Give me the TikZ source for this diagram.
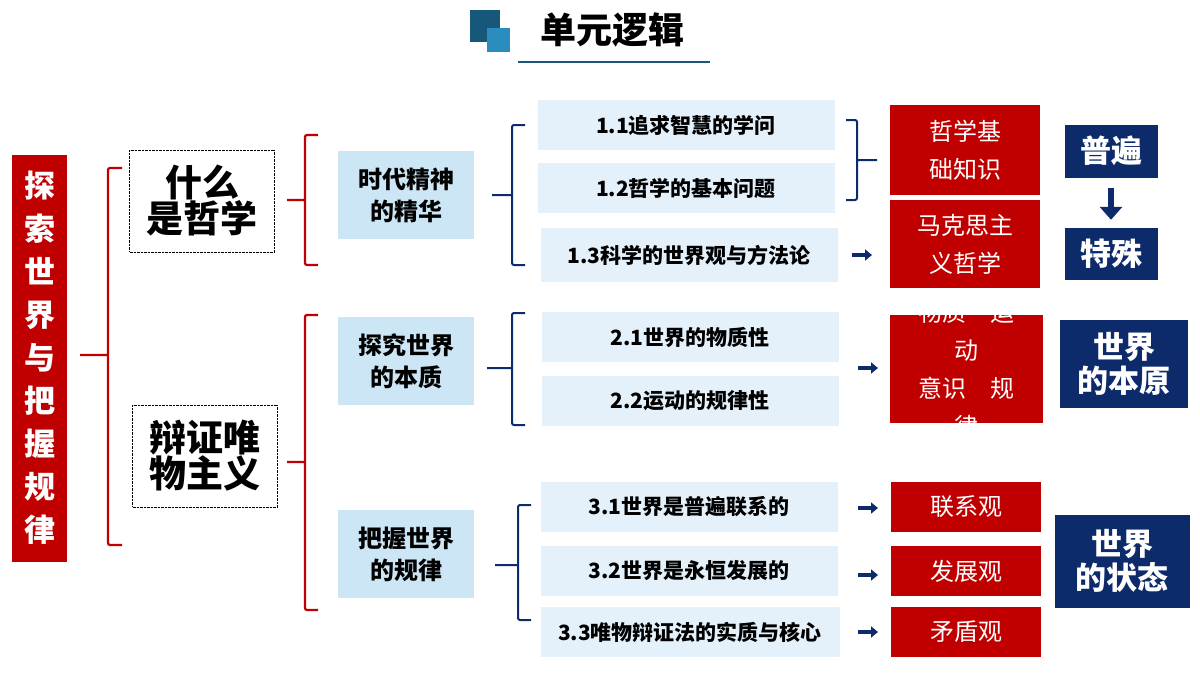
\documentclass[tikz,border=0pt]{standalone}
\usepackage{fontspec}
\setmainfont{Noto Sans CJK SC}
\newcommand\cjkb{\bfseries}
\usetikzlibrary{arrows.meta}
\definecolor{redbox}{HTML}{C00000}
\definecolor{navy}{HTML}{0D2A6B}
\definecolor{lblue}{HTML}{CCE6F5}
\definecolor{pblue}{HTML}{E4F1FA}
\definecolor{tdark}{HTML}{17587A}
\definecolor{tlight}{HTML}{2A8DBE}
\tikzset{
  item/.style={fill=pblue, minimum width=297pt, minimum height=50pt, font=\cjkb\fontsize{21}{22}\selectfont},
  topic/.style={fill=lblue, minimum width=136pt, minimum height=88pt, align=center, font=\cjkb\fontsize{24}{32}\selectfont},
  rbox/.style={fill=redbox, text=white, minimum width=150pt, minimum height=50pt, align=center, font=\fontsize{24}{38}\selectfont},
  nbox/.style={fill=navy, text=white, align=center, font=\cjkb\fontsize{31}{34}\selectfont},
  main/.style={draw, densely dotted, minimum width=145pt, minimum height=102pt, align=center, font=\cjkb\fontsize{37}{36}\selectfont},
  rbr/.style={redbox, line width=2.2pt, rounded corners=2pt},
  bbr/.style={navy, line width=2pt, rounded corners=2pt},
  arr/.style={navy, line width=3.5pt, -{Triangle[length=7pt,width=11pt]}}
}
\begin{document}
\begin{tikzpicture}[x=1pt, y=-1pt]
\useasboundingbox (0,0) rectangle (1200,675);
% title
\fill[tdark] (470,10) rectangle (500,42);
\fill[tlight] (487,28) rectangle (510,52);
\node[font=\cjkb\fontsize{36}{36}\selectfont] (title) at (612,30) {单元逻辑};
\draw[tdark, line width=1.2pt] (518,62) -- (710,62);
% left column
\node[fill=redbox, text=white, minimum width=55pt, minimum height=407pt, align=center,
  font=\cjkb\fontsize{31}{43}\selectfont] (root) at (39.5,358) {探\\索\\世\\界\\与\\把\\握\\规\\律};
\draw[rbr] (122,168) -- (108,168) -- (108,545) -- (122,545) (80,355) -- (108,355);
\node[main] (what) at (202,201) {什么\\是哲学};
\node[main] (dial) at (205,456) {辩证唯\\物主义};
\draw[rbr] (318,135) -- (305,135) -- (305,265) -- (318,265) (287,200) -- (305,200);
\draw[rbr] (318,315) -- (305,315) -- (305,610) -- (318,610) (287,462) -- (305,462);
% topics
\node[topic] (t1) at (406,195) {时代精神\\的精华};
\node[topic] (t2) at (406,361) {探究世界\\的本质};
\node[topic] (t3) at (406,554) {把握世界\\的规律};
\draw[bbr] (525,125) -- (512,125) -- (512,265) -- (525,265) (492,195) -- (512,195);
\draw[bbr] (525,313) -- (512,313) -- (512,425) -- (525,425) (487,368) -- (512,368);
\draw[bbr] (531,505) -- (518,505) -- (518,620) -- (531,620) (495,565) -- (518,565);
% items
\node[item] (i11) at (686,125) {1.1追求智慧的学问};
\node[item] (i12) at (686,188) {1.2哲学的基本问题};
\node[item, minimum height=54pt] (i13) at (689,255) {1.3科学的世界观与方法论};
\node[item] (i21) at (690,337) {2.1世界的物质性};
\node[item] (i22) at (690,401) {2.2运动的规律性};
\node[item] (i31) at (689,507) {3.1世界是普遍联系的};
\node[item] (i32) at (689,571) {3.2世界是永恒发展的};
\node[item, minimum width=299pt] (i33) at (690,632) {3.3唯物辩证法的实质与核心};
\draw[bbr] (846,120) -- (857,120) -- (857,200) -- (846,200) (857,160) -- (877,160);
% red boxes
\node[rbox, minimum height=90pt] (r1) at (965,150) {哲学基\\础知识};
\node[rbox, minimum height=88pt] (r2) at (965,244) {马克思主\\义哲学};
\begin{scope}
\clip (890,315) rectangle (1043,423);
\fill[redbox] (890,315) rectangle (1043,423);
\node[text=white, align=center, font=\fontsize{24}{38}\selectfont] (r3) at (966.5,369) {物质\quad 运\\动\\意识\quad 规\\律};
\end{scope}
\node[rbox] (r4) at (966,507) {联系观};
\node[rbox] (r5) at (966,571) {发展观};
\node[rbox] (r6) at (966,632) {矛盾观};
\coordinate (a1) at (852,255); \coordinate (b1) at (872,255);
\coordinate (a2) at (858,368); \coordinate (b2) at (878,368);
\coordinate (a3) at (858,508); \coordinate (b3) at (878,508);
\coordinate (a4) at (858,575); \coordinate (b4) at (878,575);
\coordinate (a5) at (858,632); \coordinate (b5) at (878,632);
\foreach \k in {1,...,5} \draw[arr] (a\k) -- (b\k);
% navy boxes
\node[nbox, minimum width=93pt, minimum height=53pt] (gen) at (1111,151) {普遍};
\node[nbox, minimum width=93pt, minimum height=52pt] (spec) at (1111,254) {特殊};
\draw[navy, line width=6pt, -{Triangle[length=13pt,width=22pt]}, shorten <=10pt, shorten >=8pt] (gen) -- (spec);
\node[nbox, minimum width=128pt, minimum height=88pt] (orig) at (1124,364) {世界\\的本原};
\node[nbox, minimum width=135pt, minimum height=93pt] (state) at (1122,561) {世界\\的状态};
\end{tikzpicture}
\end{document}
